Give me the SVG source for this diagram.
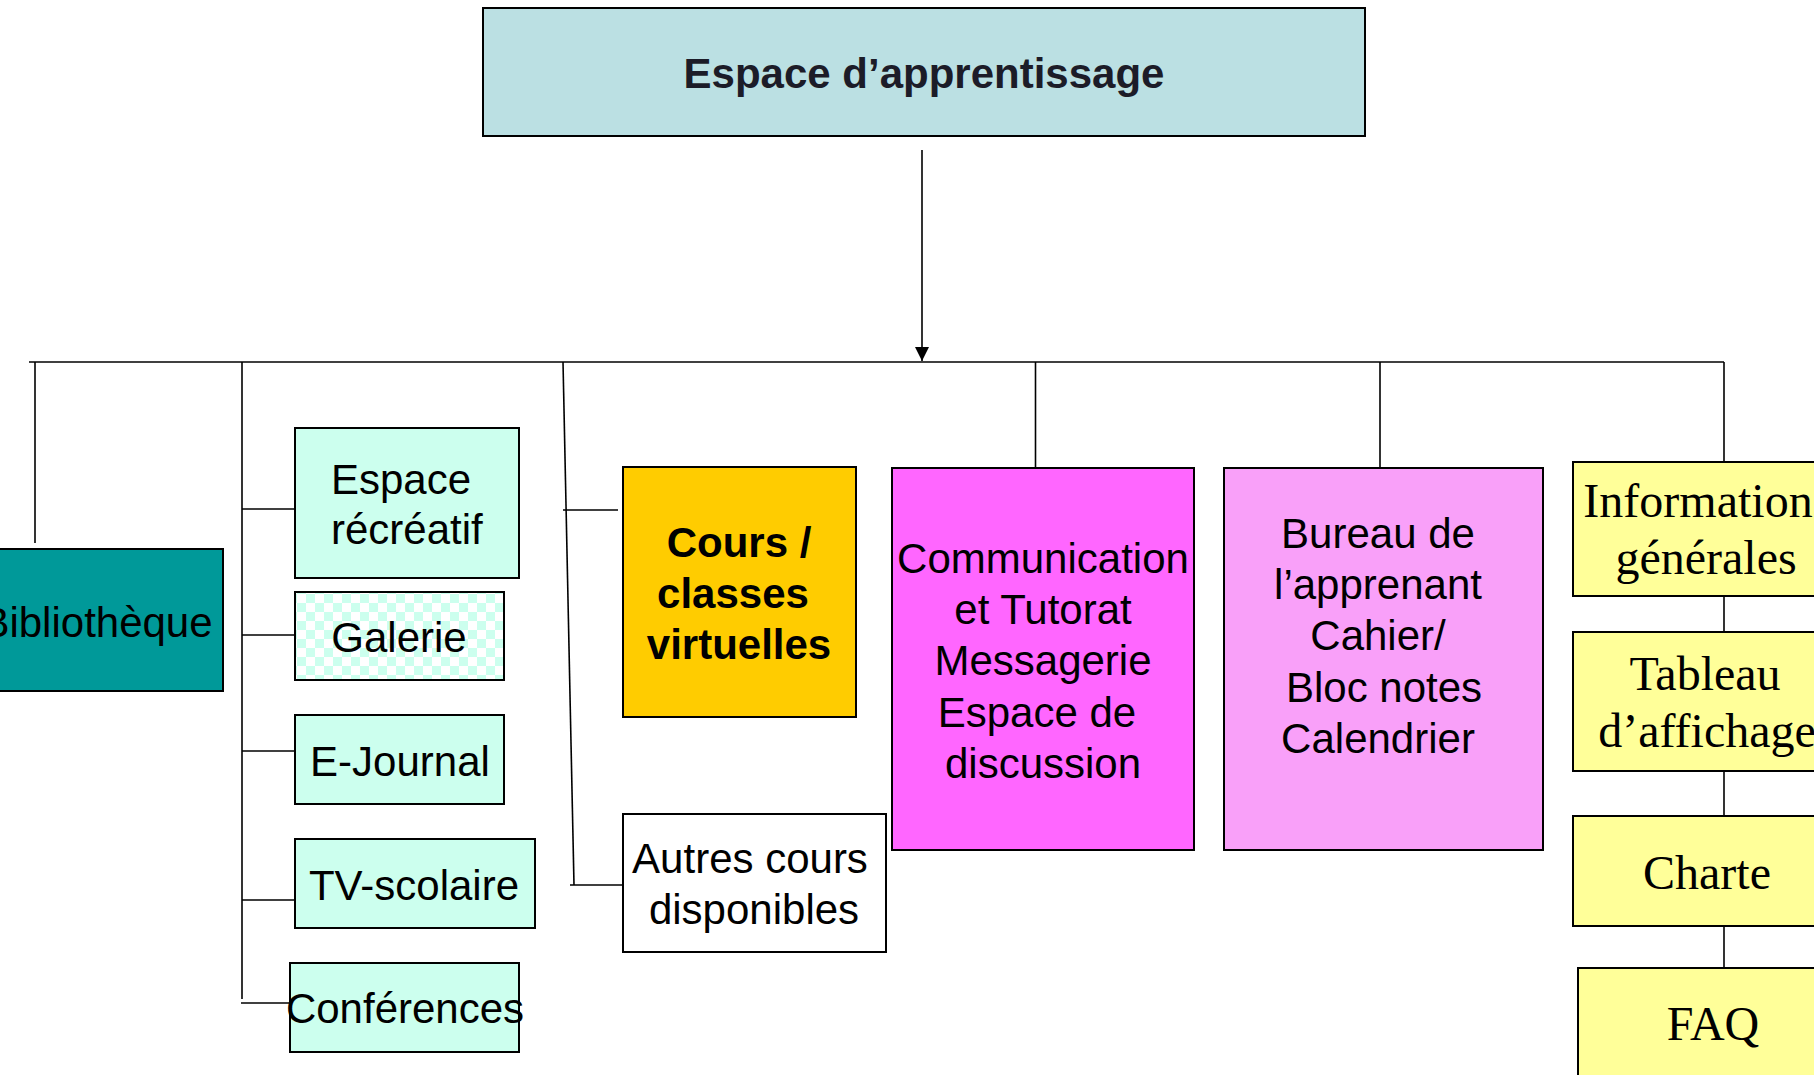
<svg xmlns="http://www.w3.org/2000/svg" width="1814" height="1075" viewBox="0 0 1814 1075">
<style>
.box{stroke:#000;stroke-width:2}
.ln{stroke:#000;stroke-width:1.6;fill:none}
.t{font-family:"Liberation Sans",Arial,sans-serif;font-size:42px;fill:#000}
.tb{font-family:"Liberation Sans",Arial,sans-serif;font-size:42px;font-weight:bold;fill:#000}
.ts{font-family:"Liberation Serif","Times New Roman",serif;font-size:48px;fill:#000}
.m{text-anchor:middle}
</style>
<defs>
<marker id="arr" markerWidth="14" markerHeight="16" refX="14" refY="7" orient="auto" markerUnits="userSpaceOnUse">
<path d="M0,0 L14,7 L0,14 Z" fill="#000"/>
</marker>
<pattern id="chk" width="18" height="18" patternUnits="userSpaceOnUse">
<rect width="18" height="18" fill="#FFFFFF"/>
<rect width="9" height="9" fill="#CCFFEE"/>
<rect x="9" y="9" width="9" height="9" fill="#CCFFEE"/>
</pattern>
</defs>
<rect width="1814" height="1075" fill="#FFFFFF"/>

<g id="connectors">
<line class="ln" x1="922" y1="150" x2="922" y2="361" marker-end="url(#arr)"/>
<line class="ln" x1="29" y1="362" x2="1724" y2="362"/>
<line class="ln" x1="35" y1="362" x2="35" y2="543"/>
<line class="ln" x1="242" y1="362" x2="242" y2="999"/>
<line class="ln" x1="242" y1="509" x2="295" y2="509"/>
<line class="ln" x1="242" y1="635" x2="295" y2="635"/>
<line class="ln" x1="242" y1="751" x2="295" y2="751"/>
<line class="ln" x1="242" y1="900" x2="295" y2="900"/>
<line class="ln" x1="241" y1="1003" x2="290" y2="1003"/>
<line class="ln" x1="563" y1="362" x2="574" y2="885"/>
<line class="ln" x1="563" y1="510" x2="618" y2="510"/>
<line class="ln" x1="570" y1="885" x2="623" y2="885"/>
<line class="ln" x1="1035.5" y1="362" x2="1035.5" y2="468"/>
<line class="ln" x1="1380" y1="362" x2="1380" y2="468"/>
<line class="ln" x1="1724" y1="362" x2="1724" y2="462"/>
<line class="ln" x1="1724" y1="596" x2="1724" y2="632"/>
<line class="ln" x1="1724" y1="771" x2="1724" y2="816"/>
<line class="ln" x1="1724" y1="926" x2="1724" y2="968"/>
</g>

<g id="node-espace-apprentissage">
<rect class="box" x="483" y="8" width="882" height="128" fill="#BBE0E3"/>
<text class="tb m" x="924" y="88" style="fill:#1c1c28">Espace d’apprentissage</text>
</g>

<g id="node-bibliotheque">
<rect class="box" x="-30" y="549" width="253" height="142" fill="#009999"/>
<text class="t m" x="97" y="637">Bibliothèque</text>
</g>

<g id="node-espace-recreatif">
<rect class="box" x="295" y="428" width="224" height="150" fill="#CCFFEE"/>
<text class="t" x="331" y="494">Espace</text>
<text class="t" x="331" y="544">récréatif</text>
</g>

<g id="node-galerie">
<rect class="box" x="295" y="592" width="209" height="88" fill="url(#chk)"/>
<text class="t m" x="399" y="652">Galerie</text>
</g>

<g id="node-ejournal">
<rect class="box" x="295" y="715" width="209" height="89" fill="#CCFFEE"/>
<text class="t m" x="400" y="776">E-Journal</text>
</g>

<g id="node-tvscolaire">
<rect class="box" x="295" y="839" width="240" height="89" fill="#CCFFEE"/>
<text class="t m" x="414" y="900">TV-scolaire</text>
</g>

<g id="node-conferences">
<rect class="box" x="290" y="963" width="229" height="89" fill="#CCFFEE"/>
<text class="t m" x="405" y="1023">Conférences</text>
</g>

<g id="node-cours">
<rect class="box" x="623" y="467" width="233" height="250" fill="#FFCC00"/>
<text class="tb m" x="739" y="557">Cours /</text>
<text class="tb m" x="733" y="608">classes</text>
<text class="tb m" x="739" y="659">virtuelles</text>
</g>

<g id="node-autres-cours">
<rect class="box" x="623" y="814" width="263" height="138" fill="#FFFFFF"/>
<text class="t m" x="750" y="873">Autres cours</text>
<text class="t m" x="754" y="924">disponibles</text>
</g>

<g id="node-communication">
<rect class="box" x="892" y="468" width="302" height="382" fill="#FF66FF"/>
<text class="t m" x="1043" y="573">Communication</text>
<text class="t m" x="1043" y="624">et Tutorat</text>
<text class="t m" x="1043" y="675">Messagerie</text>
<text class="t m" x="1037" y="727">Espace de</text>
<text class="t m" x="1043" y="778">discussion</text>
</g>

<g id="node-bureau">
<rect class="box" x="1224" y="468" width="319" height="382" fill="#F9A0F9"/>
<text class="t m" x="1378" y="548">Bureau de</text>
<text class="t m" x="1378" y="599">l’apprenant</text>
<text class="t m" x="1378" y="650">Cahier/</text>
<text class="t m" x="1384" y="702">Bloc notes</text>
<text class="t m" x="1378" y="753">Calendrier</text>
</g>

<g id="node-information">
<rect class="box" x="1573" y="462" width="300" height="134" fill="#FFFF99"/>
<text class="ts m" x="1698" y="517">Information</text>
<text class="ts m" x="1706" y="574">générales</text>
</g>

<g id="node-tableau">
<rect class="box" x="1573" y="632" width="300" height="139" fill="#FFFF99"/>
<text class="ts m" x="1705" y="690">Tableau</text>
<text class="ts m" x="1707" y="747">d’affichage</text>
</g>

<g id="node-charte">
<rect class="box" x="1573" y="816" width="300" height="110" fill="#FFFF99"/>
<text class="ts m" x="1707" y="889">Charte</text>
</g>

<g id="node-faq">
<rect class="box" x="1578" y="968" width="300" height="130" fill="#FFFF99"/>
<text class="ts m" x="1713" y="1040">FAQ</text>
</g>
</svg>
